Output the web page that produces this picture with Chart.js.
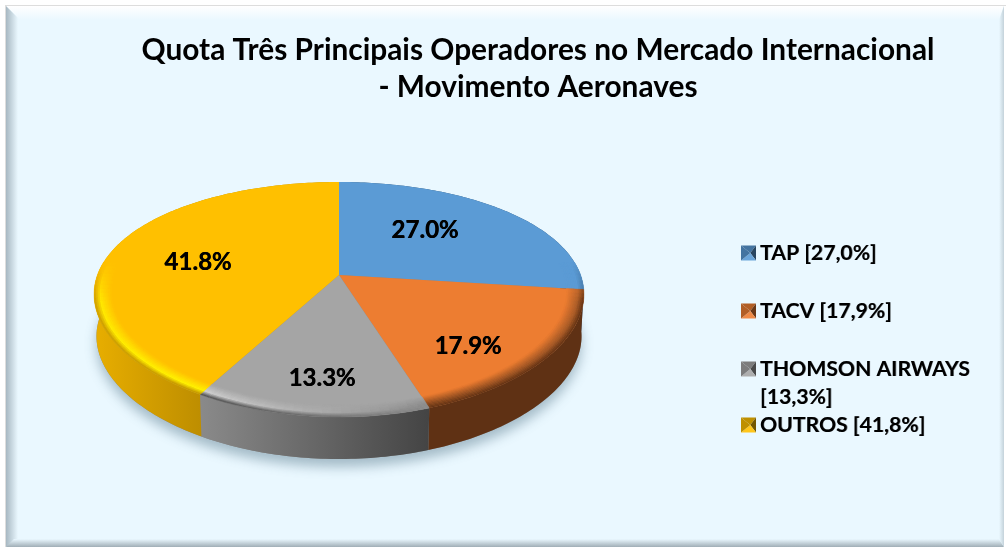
<!DOCTYPE html>
<html><head><meta charset="utf-8">
<style>html,body{margin:0;padding:0;background:#fff;overflow:hidden}canvas{display:block}</style>
<script src="https://cdn.jsdelivr.net/npm/chart.js@4"></script>
</head><body><canvas id="c" width="1006" height="547"></canvas>
<script>
const categories = ['TAP', 'TACV', 'THOMSON AIRWAYS', 'OUTROS'];
const shareValues = [27.0, 17.9, 13.3, 41.8];
const legendLines = [['TAP [27,0%]'], ['TACV [17,9%]'], ['THOMSON AIRWAYS', '[13,3%]'], ['OUTROS [41,8%]']];
const titleLines = ['Quota Três Principais Operadores no Mercado Internacional', '- Movimento Aeronaves'];

const topColors = ['#5B9BD5', '#ED7D31', '#A5A5A5', '#FFC000'];
// rim highlight (start/end of slice), wall gradient (left/right)
const rimStart = ['#5B9BD5', '#B0602A', '#8C8C8C', '#FFF400'];
const rimEnd   = ['#5B9BD5', '#8A4A20', '#D0D0D0', '#FFD000'];
const wallStart = ['#2F5474', '#5F3114', '#8A8A8A', '#E8AE00'];
const wallEnd   = ['#3F6C96', '#5F3114', '#444444', '#BE8E00'];
const labelRadius = [0.58, 0.739, 0.771, 0.607];
const labelAngleShift = [-7.5, 9.6, -1, -3.5];
const legendRowY = [253, 311, 369, 425];

const FONT = 'Lato, Carlito, "Open Sans", sans-serif';
const view = {cx: 339, cy: 275, a: 112.4, b: 241.6, k: 0.2085, kx: 0.165, depth: 42, shrink: 0.99, band: 0.07};

function project(r, ang, drop) {
  const u = r * Math.cos(ang), v = r * Math.sin(ang), w = 1 - view.k * v, wx = 1 - view.kx * v;
  const s = drop ? view.shrink : 1;
  return [view.cx + s * view.b * u / wx, view.cy + view.a * v / w + (drop ? view.depth : 0)];
}
function rgb(h) { return [1, 3, 5].map(i => parseInt(h.substr(i, 2), 16)); }
function mix(a, b, t) { const A = rgb(a), B = rgb(b); return A.map((x, i) => Math.round(x + (B[i] - x) * t)); }
function mixA(A, B, t) { return A.map((x, i) => Math.round(x + (B[i] - x) * t)); }
const css = c => `rgb(${c[0]},${c[1]},${c[2]})`;

const framePlugin = {
  id: 'frame',
  beforeDraw(chart) {
    const c = chart.ctx, L = 6, T = 6, R = 1004, B = 547, W = 1006;
    c.save();
    c.fillStyle = '#FFFFFF'; c.fillRect(0, 0, W, B);
    c.fillStyle = '#DDDDDD'; c.fillRect(5, 5, W - 5, 1); c.fillRect(5, 5, 1, B - 5);
    c.fillStyle = '#EAF8FF'; c.fillRect(L, T, R - L, B - T);
    const bev = 14;
    let g = c.createLinearGradient(0, T, 0, T + bev);
    g.addColorStop(0, '#FFFFFF'); g.addColorStop(1, '#EAF8FF');
    c.fillStyle = g; c.beginPath(); c.moveTo(L, T); c.lineTo(R, T); c.lineTo(R - 5, T + bev); c.lineTo(L + bev, T + bev); c.fill();
    g = c.createLinearGradient(L, 0, L + 12, 0);
    g.addColorStop(0, '#A7B8C2'); g.addColorStop(1, '#EAF8FF');
    c.fillStyle = g; c.beginPath(); c.moveTo(L, T); c.lineTo(L + 12, T + 12); c.lineTo(L + 12, B - 6); c.lineTo(L, B); c.fill();
    g = c.createLinearGradient(0, 539, 0, B);
    g.addColorStop(0, '#EAF8FF'); g.addColorStop(1, '#A0AEB6');
    c.fillStyle = g; c.beginPath(); c.moveTo(L, B); c.lineTo(L + 8, 539); c.lineTo(R - 5, 539); c.lineTo(R, B); c.fill();
    g = c.createLinearGradient(R - 5, 0, R, 0);
    g.addColorStop(0, '#EAF8FF'); g.addColorStop(1, '#C4D2DA');
    c.fillStyle = g; c.beginPath(); c.moveTo(R, T); c.lineTo(R, B); c.lineTo(R - 5, 539); c.lineTo(R - 5, T + bev); c.fill();
    c.restore();
  }
};

const pie3dPlugin = {
  id: 'pie3d',
  beforeDatasetsDraw(chart) {
    const c = chart.ctx, arcs = chart.getDatasetMeta(0).data, STEP = Math.PI / 180;
    c.save();
    // soft ground shadow
    c.save();
    c.shadowColor = 'rgba(70,105,125,0.42)'; c.shadowBlur = 12; c.shadowOffsetX = 0; c.shadowOffsetY = 8;
    c.fillStyle = '#888';
    c.beginPath();
    for (let a = 0; a < Math.PI * 2; a += STEP) { const p = project(1, a, true); a ? c.lineTo(p[0], p[1]) : c.moveTo(p[0], p[1]); }
    c.closePath(); c.fill();
    c.restore();
    // walls
    arcs.forEach((el, i) => {
      const s = el.startAngle, e = el.endAngle;
      const pts = [];
      for (let a = s; a < e; a += STEP) pts.push(a);
      pts.push(e);
      const xs = pts.filter(a => Math.sin(a) > -0.1).map(a => project(1, a, false)[0]);
      const x0 = Math.min(...xs), x1 = Math.max(...xs);
      const g = c.createLinearGradient(x0, 0, x1, 0);
      g.addColorStop(0, wallStart[i]); g.addColorStop(1, wallEnd[i]);
      c.fillStyle = g;
      c.beginPath();
      pts.forEach((a, j) => { const p = project(1, a, false); j ? c.lineTo(p[0], p[1]) : c.moveTo(p[0], p[1]); });
      pts.slice().reverse().forEach(a => { const p = project(1, a, true); c.lineTo(p[0], p[1]); });
      c.closePath(); c.fill();
    });
    // top faces
    arcs.forEach((el, i) => {
      c.fillStyle = topColors[i];
      c.beginPath(); c.moveTo(view.cx, view.cy);
      for (let a = el.startAngle; a < el.endAngle; a += STEP) { const p = project(1, a, false); c.lineTo(p[0], p[1]); }
      const p = project(1, el.endAngle, false); c.lineTo(p[0], p[1]);
      c.closePath(); c.fill();
    });
    // bevelled rim
    const N = 10, A = 2 * STEP;
    arcs.forEach((el, i) => {
      const span = el.endAngle - el.startAngle, n = Math.ceil(span / A), da = span / n;
      for (let j = 0; j < n; j++) {
        const a0 = el.startAngle + j * da, a1 = a0 + da, mid = (a0 + a1) / 2;
        const vis = Math.min(1, Math.max(0, (Math.sin(mid) + 0.12) / 0.35));
        if (vis <= 0) continue;
        const f = (mid - el.startAngle) / span;
        const rim = mix(rimStart[i], rimEnd[i], f);
        const wall = mix(wallStart[i], wallEnd[i], Math.sin(mid) > 0 ? (i === 3 ? 1 - f : f) : f);
        const top = rgb(topColors[i]);
        for (let q = 0; q < N; q++) {
          const t0 = q / N, t1 = (q + 1) / N, tm = (t0 + t1) / 2;
          let col = tm < 0.65 ? mixA(top, rim, tm / 0.65) : mixA(rim, wall, (tm - 0.65) / 0.35);
          col = mixA(top, col, vis);
          const r0 = 1 - view.band * (1 - t0), r1 = 1 - view.band * (1 - t1);
          const P = [project(r0, a0), project(r1, a0), project(r1, a1), project(r0, a1)];
          c.fillStyle = c.strokeStyle = css(col); c.lineWidth = 0.4;
          c.beginPath(); P.forEach((p, m) => m ? c.lineTo(p[0], p[1]) : c.moveTo(p[0], p[1])); c.closePath(); c.fill(); c.stroke();
        }
      }
    });
    // value labels
    c.fillStyle = '#000'; c.font = 'bold 24px ' + FONT; c.textAlign = 'center'; c.textBaseline = 'middle';
    c.shadowColor = '#000'; c.shadowBlur = 0; c.shadowOffsetX = 0.5; c.shadowOffsetY = 0;
    arcs.forEach((el, i) => {
      const mid = (el.startAngle + el.endAngle) / 2 + labelAngleShift[i] * STEP;
      const p = project(labelRadius[i], mid, false);
      c.fillText(shareValues[i].toFixed(1) + '%', p[0], p[1]);
    });
    c.restore();
    return false;
  }
};

const legendPlugin = {
  id: 'sideLegend',
  afterDraw(chart) {
    const c = chart.ctx, X = 741, S = 15;
    c.save();
    categories.forEach((name, i) => {
      const y = legendRowY[i], x = X, t = y - 7.5;
      const base = topColors[i], dark = css(mix(base, '#000000', 0.55)), mid = css(mix(base, '#000000', 0.25)), lite = css(mix(base, '#FFFFFF', 0.1));
      const cx = x + S * 0.62, cy = t + S * 0.5;
      const tri = (col, ax, ay, bx, by) => { c.fillStyle = col; c.beginPath(); c.moveTo(ax, ay); c.lineTo(bx, by); c.lineTo(cx, cy); c.closePath(); c.fill(); };
      tri(mid, x, t, x + S, t);
      tri(dark, x + S, t, x + S, t + S);
      tri(lite, x + S, t + S, x, t + S);
      tri(mid, x, t + S, x, t);
      c.font = 'bold 21.2px ' + FONT; c.textBaseline = 'middle'; c.textAlign = 'left';
      c.shadowColor = 'rgba(0,0,0,0.45)'; c.shadowBlur = 0.5; c.shadowOffsetX = 0.6; c.shadowOffsetY = 0.4;
      c.fillStyle = '#000';
      legendLines[i].forEach((line, j) => c.fillText(line, 760, y + j * 28));
      c.shadowColor = 'transparent'; c.shadowBlur = 0; c.shadowOffsetX = 0; c.shadowOffsetY = 0;
    });
    c.restore();
  }
};

new Chart(document.getElementById('c'), {
  type: 'pie',
  data: { labels: categories, datasets: [{ data: shareValues, backgroundColor: topColors, borderWidth: 0 }] },
  plugins: [framePlugin, pie3dPlugin, legendPlugin],
  options: {
    responsive: false, animation: false,
    layout: { padding: { left: 70, top: 31, right: 0, bottom: 40 } },
    plugins: {
      legend: { display: false },
      tooltip: { enabled: false },
      title: { display: true, text: titleLines, color: '#000', font: { family: FONT, size: 29.85, weight: 'bold', lineHeight: 1.27 }, padding: 0 }
    }
  }
});
</script></body></html>
